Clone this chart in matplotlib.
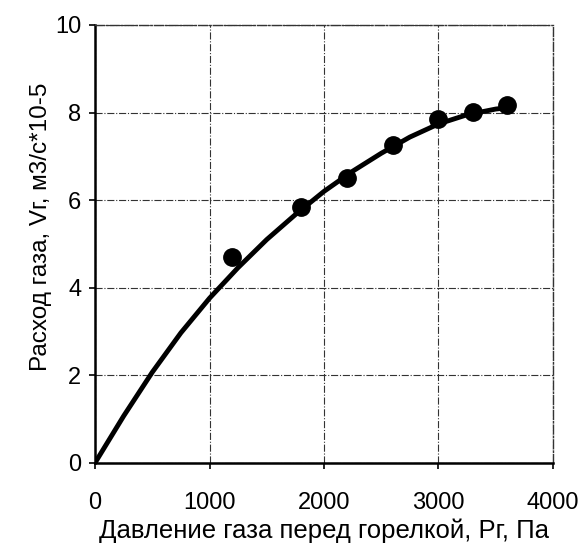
import matplotlib
matplotlib.use('Agg')
import matplotlib.pyplot as plt

plt.rcParams['font.family'] = ['Liberation Sans', 'DejaVu Sans']

# measured points
pressure = [1200, 1800, 2200, 2600, 3000, 3300, 3600]
flow = [4.7, 5.85, 6.5, 7.25, 7.85, 8.02, 8.17]

# trend line
trend_x = [0, 250, 500, 750, 1000, 1250, 1500, 1750, 2000, 2250, 2500, 2750, 3000, 3250, 3500, 3600]
trend_y = [0, 1.07, 2.07, 2.97, 3.76, 4.46, 5.10, 5.67, 6.2, 6.66, 7.07, 7.44, 7.74, 7.95, 8.08, 8.11]

x_ticks = [0, 1000, 2000, 3000, 4000]
y_ticks = [0, 2, 4, 6, 8, 10]

fig = plt.figure(figsize=(5.83, 5.55), dpi=100)
ax = fig.add_axes([0.163, 0.166, 0.7855, 0.789])

ax.plot(trend_x, trend_y, c='k', lw=3.5, solid_capstyle='round', zorder=3)
ax.plot(pressure, flow, 'o', c='k', ms=12.5, zorder=4)

ax.set_xlim(0, 4000)
ax.set_ylim(0, 10)
ax.set_xticks(x_ticks)
ax.set_yticks(y_ticks)
ax.grid(True, ls='-.', lw=0.8, c='#333333')

for s in ['left', 'bottom']:
    ax.spines[s].set_linewidth(1.8)
for s in ['top', 'right']:
    ax.spines[s].set_linestyle('-.')
    ax.spines[s].set_linewidth(1.0)
    ax.spines[s].set_color('#333333')

ax.tick_params(axis='x', direction='out', length=4, width=1.2, pad=17, labelsize=17)
ax.tick_params(axis='y', direction='out', length=4, width=1.2, pad=6, labelsize=17)

ax.set_xlabel('Давление газа перед горелкой, Рг, Па', fontsize=18.5, labelpad=3)
ax.set_ylabel('Расход газа, Vг, м3/с*10-5', fontsize=17.5)
ax.yaxis.set_label_coords(-0.094, 0.54)

fig.savefig('out.png', dpi=100)
